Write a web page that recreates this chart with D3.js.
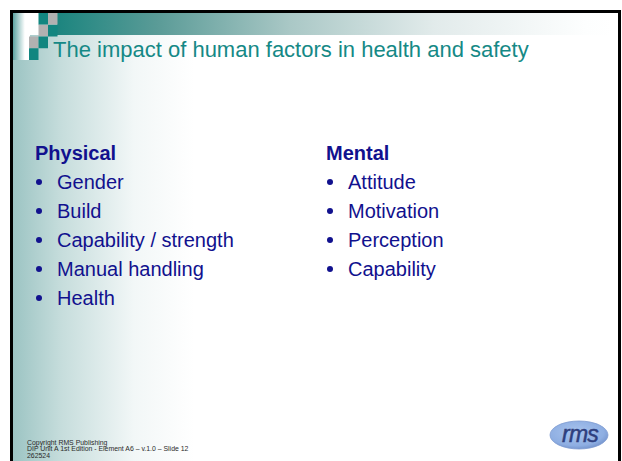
<!DOCTYPE html>
<html><head><meta charset="utf-8">
<script src="https://cdn.jsdelivr.net/npm/d3@7"></script>
<style>html,body{margin:0;padding:0;background:#fff;overflow:hidden}svg{display:block}</style>
</head><body><svg id="c" width="622" height="461"></svg>
<script>
const title = "The impact of human factors in health and safety";
const columnHeadings = ["Physical", "Mental"];
const physicalItems = ["Gender", "Build", "Capability / strength", "Manual handling", "Health"];
const mentalItems = ["Attitude", "Motivation", "Perception", "Capability"];
const footerLines = ["Copyright RMS Publishing", "DIP Unit A 1st Edition - Element A6 \u2013 v.1.0 \u2013 Slide 12", "262524"];
const logoText = "rms";
const squareCols = [1, 2, 1, 2, 0, 1, 0];
const squareRows = [0, 0, 1, 1, 2, 2, 3];
const squareKinds = ["teal", "gray", "gray", "teal", "gray", "teal", "teal"];

const svg = d3.select("#c");
const defs = svg.append("defs");
const font = "'Liberation Sans', Arial, sans-serif";

function grad(id, stops) {
  const g = defs.append("linearGradient").attr("id", id).attr("x1", 0).attr("x2", 1).attr("y1", 0).attr("y2", 0);
  stops.forEach(s => g.append("stop").attr("offset", s[0]).attr("stop-color", s[1]));
}
grad("bg", [[0, "#9cc4c3"], [0.08, "#c6dddc"], [0.2, "#f2f7f7"], [0.3, "#ffffff"], [1, "#ffffff"]]);
grad("bar", [[0, "#1c857f"], [0.18, "#5a9b97"], [0.42, "#aac8c6"], [0.68, "#e2ebeb"], [0.95, "#fdfefe"], [1, "#ffffff"]]);
grad("strip", [[0, "#5da3a1"], [0.7, "#ffffff"], [1, "#ffffff"]]);
const rg = defs.append("radialGradient").attr("id", "logo").attr("cx", 0.45).attr("cy", 0.4).attr("r", 0.6);
rg.append("stop").attr("offset", 0).attr("stop-color", "#a9c4ee");
rg.append("stop").attr("offset", 0.8).attr("stop-color", "#8eaee2");
rg.append("stop").attr("offset", 1).attr("stop-color", "#7897cf");

// slide background
svg.append("rect").attr("x", 13).attr("y", 13).attr("width", 605).attr("height", 460).attr("fill", "url(#bg)");
// top-left strip and white block
svg.append("rect").attr("x", 13).attr("y", 13).attr("width", 17).attr("height", 47).attr("fill", "url(#strip)");
svg.append("rect").attr("x", 29).attr("y", 13).attr("width", 28).attr("height", 22).attr("fill", "#ffffff");
// top bar
svg.append("rect").attr("x", 57).attr("y", 13).attr("width", 556).attr("height", 22).attr("fill", "url(#bar)");

// checker squares
const sx = d3.scaleLinear().domain([0, 3]).range([29, 57.5]);
const sy = d3.scaleLinear().domain([0, 4]).range([13, 60]);
const sc = d3.scaleOrdinal().domain(["teal", "gray"]).range(["#118680", "#b1b1b1"]);
svg.append("g").selectAll("rect").data(squareCols).join("rect")
  .attr("x", d => sx(d)).attr("y", (d, i) => sy(squareRows[i]))
  .attr("width", sx(1) - sx(0)).attr("height", sy(1) - sy(0))
  .attr("fill", (d, i) => sc(squareKinds[i]));

// frame
svg.append("rect").attr("x", 11.5).attr("y", 11.5).attr("width", 608).attr("height", 480)
  .attr("fill", "none").attr("stroke", "#000").attr("stroke-width", 3);

// title
svg.append("text").attr("x", 53).attr("y", 57).attr("font-family", font).attr("font-size", 22)
  .attr("fill", "#158986").text(title);

// lists
const rowY = d3.scaleLinear().domain([0, 5]).range([160, 305]);
const colX = d3.scaleOrdinal().domain(columnHeadings).range([35, 326]);
const navy = "#11118e";
const lists = [physicalItems, mentalItems];
columnHeadings.forEach((h, ci) => {
  const g = svg.append("g").attr("font-family", font).attr("fill", navy);
  const x0 = colX(h);
  g.append("text").attr("x", x0).attr("y", rowY(0)).attr("font-size", 20).attr("font-weight", "bold").text(h);
  g.selectAll("circle").data(lists[ci]).join("circle")
    .attr("cx", x0 + 4).attr("cy", (d, i) => rowY(i + 1) - 7).attr("r", 3).attr("fill", navy);
  g.selectAll("text.item").data(lists[ci]).join("text").attr("class", "item")
    .attr("x", x0 + 22).attr("y", (d, i) => rowY(i + 1)).attr("font-size", 20).text(d => d);
});

// footer
const fy = d3.scaleLinear().domain([0, 2]).range([444.5, 458]);
svg.append("g").selectAll("text").data(footerLines).join("text")
  .attr("x", 27).attr("y", (d, i) => fy(i)).attr("font-family", font).attr("font-size", 6.9)
  .attr("fill", "#2a2a2a").text(d => d);

// logo
svg.append("ellipse").attr("cx", 579).attr("cy", 435).attr("rx", 29).attr("ry", 14)
  .attr("fill", "url(#logo)").attr("stroke", "#7d9bd0").attr("stroke-width", 0.8);
svg.append("text").attr("x", 580).attr("y", 442).attr("text-anchor", "middle")
  .attr("font-family", font).attr("font-style", "italic").attr("font-size", 23)
  .attr("fill", "#2e3f7e").attr("stroke", "#2e3f7e").attr("stroke-width", 0.5)
  .attr("letter-spacing", -0.8).text(logoText);
</script></body></html>
